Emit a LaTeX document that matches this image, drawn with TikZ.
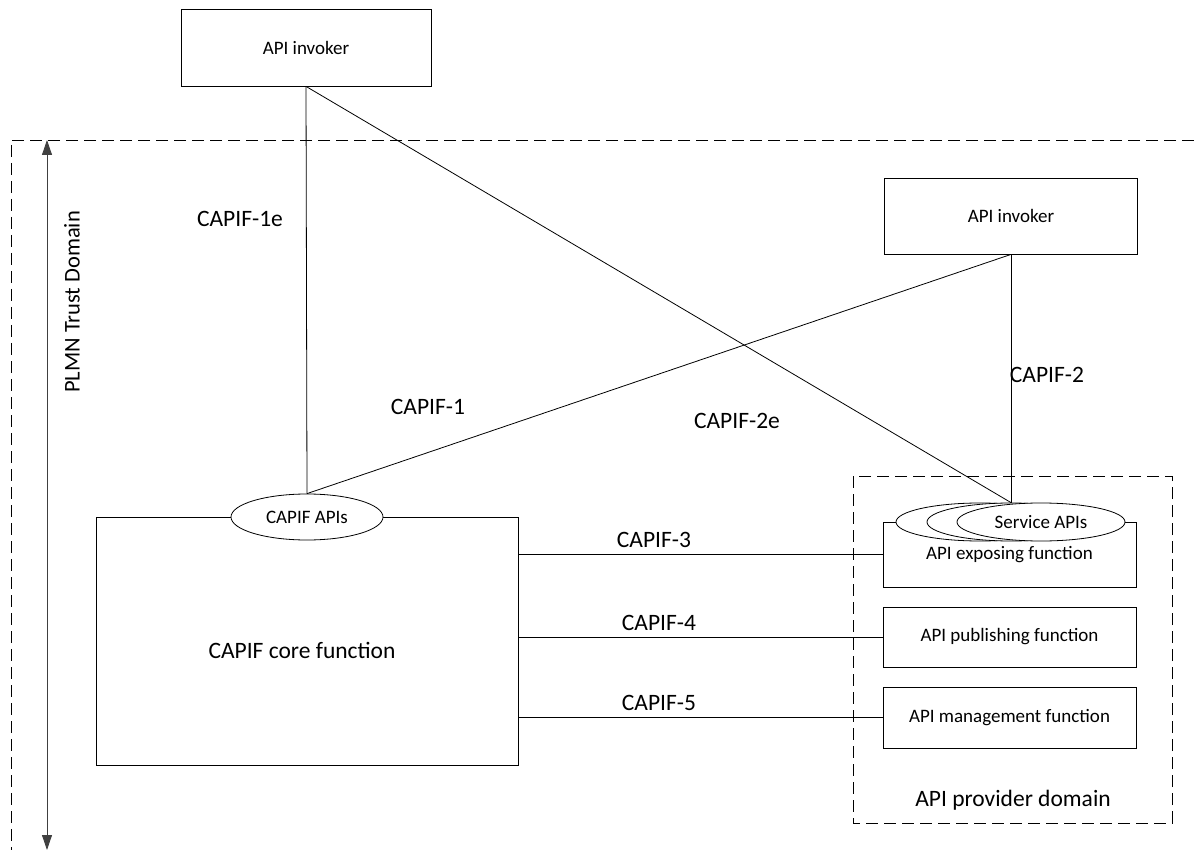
\documentclass[tikz,border=0pt]{standalone}
\usepackage{fontspec}
\setmainfont{Carlito}
\usetikzlibrary{shapes.geometric,positioning,arrows.meta}
\definecolor{arrowgray}{HTML}{404040}

\begin{document}
\begin{tikzpicture}[x=1pt,y=-1pt,line width=0.8pt,
	box/.style={draw,minimum width=253pt,minimum height=61pt,inner sep=0pt,font=\fontsize{19}{22}\selectfont},
	api/.style={draw,fill=white,ellipse,inner sep=0pt,font=\fontsize{19}{22}\selectfont},
	lbl/.style={font=\fontsize{23.5}{27}\selectfont},
	domainline/.style={dash pattern=on 12pt off 6pt}]
	\useasboundingbox (0,0) rectangle (1194,850);
	% trust domain
	\draw[domainline] (1194,140) -- (11,140) -- (11,850);
	\coordinate (ptop) at (47,140);
	\coordinate (pbot) at (47,850);
	\draw[arrowgray,{Triangle[length=15pt,width=10pt]}-{Triangle[length=15pt,width=10pt]}] (ptop) -- (pbot);
	\node[lbl,font=\fontsize{22.5}{26}\selectfont,rotate=90] (plmn) at (72,302) {PLMN Trust Domain};
	% invokers
	\node[box,minimum width=250pt,minimum height=77pt] (inv1) at (306,47.5) {API invoker};
	\node[box,minimum height=76pt] (inv2) at (1011,216) {API invoker};
	% CAPIF core
	\node[draw,minimum width=422pt,minimum height=248pt] (core) at (307,641) {};
	\node[lbl] (corelbl) at (302,650) {CAPIF core function};
	\node[api,minimum width=152pt,minimum height=46pt] (capis) at (307,517) {CAPIF APIs};
	% API provider domain
	\draw[domainline] (853,476) rectangle (1172,823);
	\node[lbl] (provlbl) at (1013,800) {API provider domain};
	\node[box,minimum height=65pt] (expo) at (1009.5,554.5) {API exposing function};
	\node[box,minimum height=60pt] (publ) at (1009.5,637) {API publishing function};
	\node[box,minimum height=61pt] (mgmt) at (1009.5,717.5) {API management function};
	\node[api,minimum width=168pt,minimum height=38pt] (svc1) at (980,522) {};
	\node[api,minimum width=168pt,minimum height=38pt] (svc2) at (1011,522) {};
	\node[api,minimum width=168pt,minimum height=38pt] (svc3) at (1041,522) {};
	\node[font=\fontsize{19}{22}\selectfont] (svclbl) at (1041,522) {Service APIs};
	% reference points
	\path (inv1.south) edge (capis.north)
		edge (svc2.north)
		(capis.north) edge (inv2.south)
		(inv2.south) edge (svc2.north)
		(core.east |- expo) edge (expo)
		(core.east |- publ) edge (publ)
		(core.east |- mgmt) edge (mgmt);
	\node[lbl] at (240,219) {CAPIF-1e};
	\node[lbl] at (428,407) {CAPIF-1};
	\node[lbl] at (737,421) {CAPIF-2e};
	\node[lbl] at (1047,375) {CAPIF-2};
	\node[lbl] at (654,540) {CAPIF-3};
	\node[lbl] at (659,623) {CAPIF-4};
	\node[lbl] at (659,703) {CAPIF-5};
\end{tikzpicture}
\end{document}
